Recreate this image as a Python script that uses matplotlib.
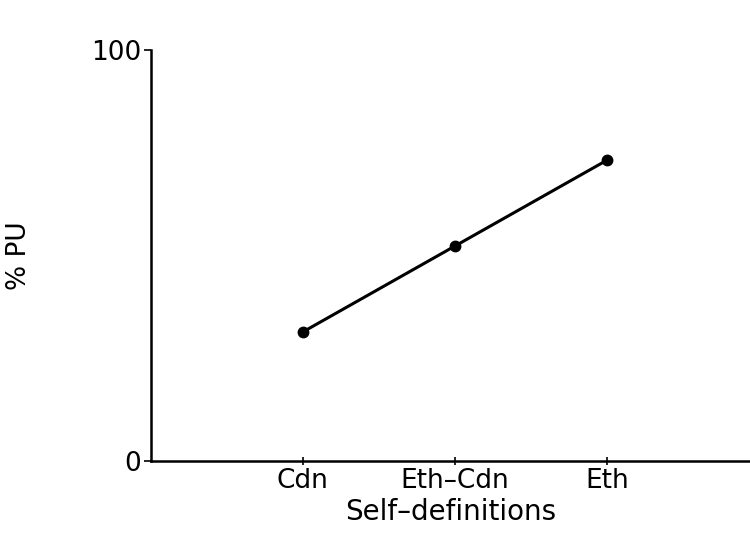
import matplotlib.pyplot as plt

# Data
categories = ["Cdn", "Eth\u2013Cdn", "Eth"]
positions = [1, 2, 3]
pct_pu = [31.4, 52.3, 73.2]

plt.rcParams['font.family'] = ['DejaVu Sans']

fig = plt.figure(figsize=(7.5, 5.38), dpi=100)
ax = fig.add_axes([0.201, 1 - 461 / 538, 0.799, 411 / 538])

ax.plot(positions, pct_pu, color="black", linewidth=2.2, marker="o", markersize=7.5)

ax.set_xlim(0, 3.94)
ax.set_ylim(0, 100)
ax.set_xticks(positions)
ax.set_xticklabels(categories)
ax.set_yticks([0, 100])
ax.set_yticklabels(["0", "100"])

ax.set_xlabel("Self\u2013definitions", fontsize=20, labelpad=3)
ax.set_ylabel("% PU", fontsize=19, labelpad=42)

ax.tick_params(axis="x", direction="inout", length=6, width=1.2, labelsize=19, pad=2)
ax.tick_params(axis="y", direction="out", length=5, width=1.2, labelsize=19, pad=2)

for side in ["top", "right"]:
    ax.spines[side].set_visible(False)
for side in ["left", "bottom"]:
    ax.spines[side].set_linewidth(1.8)

fig.savefig("out.png")
